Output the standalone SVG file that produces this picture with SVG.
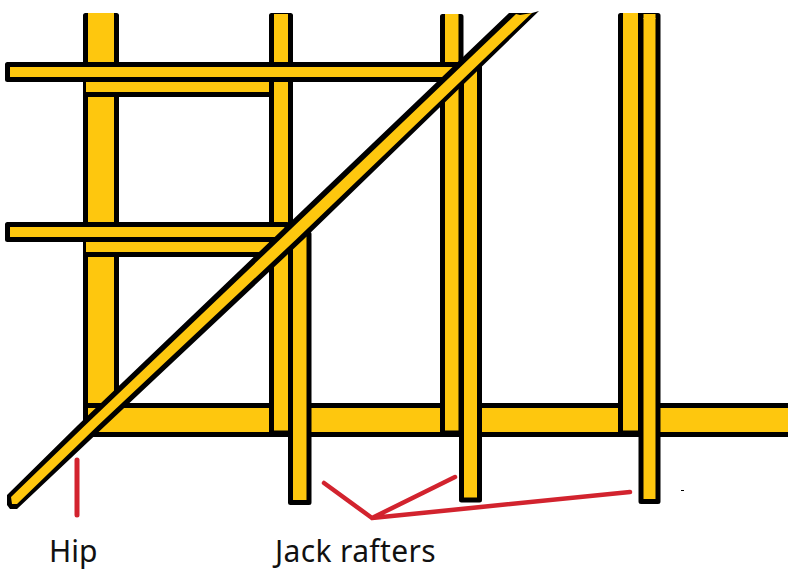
<svg xmlns="http://www.w3.org/2000/svg" width="801" height="577" viewBox="0 0 801 577">
<style>
.m{fill:#fec70e;stroke:#000;stroke-width:5;stroke-linejoin:round}
.f{fill:#fec70e}
.k{fill:#000}
.r{fill:none;stroke:#d2232e;stroke-linecap:round}
.t{font-family:"Noto Sans","Open Sans",sans-serif;font-size:30px;fill:#111}
</style>
<rect width="801" height="577" fill="#fff"/>
<g id="common-rafter-1"><path class="m" d="M85.500 15.500H116.500V420H85.500Z"/><rect class="f" x="88" y="13" width="26" height="6"/></g>
<g id="ceiling-plate">
<rect class="f" x="85" y="405" width="703" height="28"/>
<rect class="k" x="84" y="403" width="704" height="5"/>
<rect class="k" x="84" y="432" width="704" height="5"/>
<rect class="k" x="83" y="403" width="5" height="34"/>
</g>
<g id="header-lower-1"><rect class="f" x="86" y="80" width="186" height="14"/><rect class="k" x="86" y="92" width="186" height="5"/></g>
<g id="header-lower-2"><rect class="f" x="86" y="240" width="190" height="14"/><rect class="k" x="86" y="252" width="186" height="5"/></g>
<g id="common-rafter-2"><path class="m" d="M271.500 15.500H290.500V433H271.500Z"/><rect class="f" x="274" y="14" width="14" height="5"/></g>
<g id="common-rafter-3"><path class="m" d="M442.500 16.500H461V433H442.500Z"/><rect class="f" x="445" y="14" width="13.500" height="5"/></g>
<g id="common-rafter-4"><path class="m" d="M620.500 15.500H640.500V433H620.500Z"/><rect class="f" x="623" y="13" width="15" height="6"/></g>
<g id="header-upper-1"><path class="m" d="M7.500 64.500H458V79.500H7.500Z"/></g>
<g id="header-upper-2"><path class="m" d="M7.500 224.500H287V239.500H7.500Z"/></g>
<g id="jack-rafter-1"><path class="m" d="M290.500 234H309V502.500H290.500Z"/></g>
<g id="jack-rafter-2"><path class="m" d="M461.500 66H479.500V500H461.500Z"/></g>
<g id="jack-rafter-3"><path class="m" d="M641 15.500H658V501.500H641Z"/><rect class="f" x="643.500" y="14" width="12" height="5"/></g>
<g id="hip-rafter">
<path class="k" d="M7 495L78 425L509 13L532 13L539 11L303 240L106 425L17 509H10L7 505Z"/>
<path class="f" d="M11 497L85.500 425L279.500 240L516 14L520 15L532 13L295.500 240L98.500 425L17 504H12Z"/>
</g>
<g id="connectors">
<path class="r" stroke-width="5" d="M77 460V515"/>
<path class="r" stroke-width="4.500" d="M324 483L372 518L455 477M372 518L630 492"/>
</g>
<rect class="k" x="681" y="490" width="3" height="1"/>
<g id="label-hip"><text class="t" x="49" y="562">Hip</text></g>
<g id="label-jack-rafters"><text class="t" x="275" y="562" letter-spacing="0.350">Jack rafters</text></g>
</svg>
